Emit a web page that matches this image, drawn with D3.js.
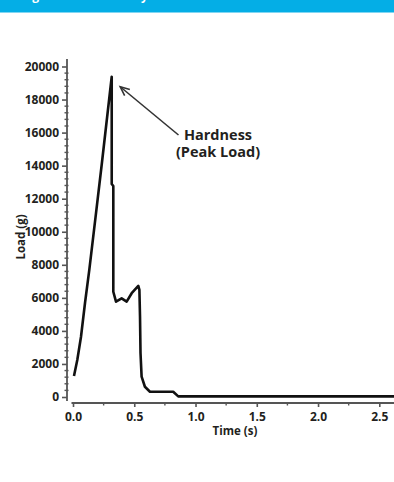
<!DOCTYPE html>
<html>
<head>
<meta charset="utf-8">
<script src="https://cdn.jsdelivr.net/npm/d3@7"></script>
<style>
  html, body { margin: 0; padding: 0; background: #ffffff; }
  svg { display: block; }
  text { font-family: "Open Sans", "Noto Sans", sans-serif; font-weight: 700; fill: #231f20; }
</style>
</head>
<body>
<svg id="chart" width="394" height="482"></svg>
<script>
// ---- data ----
const timeS = [0.008, 0.035, 0.065, 0.098, 0.133, 0.184, 0.234, 0.316, 0.316, 0.329, 0.329, 0.351, 0.397, 0.438, 0.479, 0.533, 0.542, 0.547, 0.551, 0.560, 0.587, 0.628, 0.818, 0.859, 2.62];
const loadG = [1270, 2240, 3630, 5690, 7690, 10890, 14040, 19380, 12890, 12770, 6370, 5770, 5970, 5770, 6280, 6720, 6480, 4860, 2660, 1230, 620, 320, 320, 40, 40];
const yTicks = [0, 2000, 4000, 6000, 8000, 10000, 12000, 14000, 16000, 18000, 20000];
const xTicks = [0.0, 0.5, 1.0, 1.5, 2.0, 2.5];
const annotation = ["Hardness", "(Peak Load)"];
const headerText = "Figure 1: Firmness by TPA";

const svg = d3.select("#chart");
const ink = "#231f20";

// header bar (title is cropped at the top edge, as in the reference)
svg.append("rect").attr("x", 0).attr("y", 0).attr("width", 394).attr("height", 12.5).attr("fill", "#04aee6");
svg.append("text").attr("x", 22).attr("y", 0).attr("font-size", 12).style("fill", "#ffffff").text(headerText);

const x = d3.scaleLinear().domain([0, 2.62]).range([73, 394]);
const y = d3.scaleLinear().domain([0, 20000]).range([397, 66.5]);

// y axis
const yAxisG = svg.append("g").attr("transform", "translate(67,0)");
yAxisG.append("line").attr("x1", 0).attr("x2", 0).attr("y1", 59).attr("y2", 401).attr("stroke", "#555").attr("stroke-width", 1.8);
const yMinor = d3.range(0, 20001, 400).filter(v => v % 2000 !== 0);
yAxisG.selectAll(".ymin").data(yMinor).enter().append("line")
  .attr("x1", -2.5).attr("x2", 1.5).attr("y1", d => y(d)).attr("y2", d => y(d))
  .attr("stroke", "#555").attr("stroke-width", 1.4);
const yAx = d3.axisLeft(y).tickValues(yTicks).tickSize(5).tickPadding(3).tickFormat(d3.format("d"));
const yg = svg.append("g").attr("transform", "translate(67,0)").call(yAx);
yg.select(".domain").remove();
yg.selectAll(".tick line").attr("stroke", "#555").attr("stroke-width", 1.6);
yg.selectAll(".tick text").attr("font-size", 12).attr("font-family", null).style("fill", ink);

// x axis
const xAxisG = svg.append("g").attr("transform", "translate(0,403)");
xAxisG.append("line").attr("x1", 71.5).attr("x2", 394).attr("y1", 0).attr("y2", 0).attr("stroke", "#555").attr("stroke-width", 1.8);
const xMinor = [0.25, 0.75, 1.25, 1.75, 2.25];
xAxisG.selectAll(".xmin").data(xMinor).enter().append("line")
  .attr("x1", d => x(d)).attr("x2", d => x(d)).attr("y1", 0).attr("y2", 2.5)
  .attr("stroke", "#555").attr("stroke-width", 1.4);
const xAx = d3.axisBottom(x).tickValues(xTicks).tickSize(4).tickPadding(5).tickFormat(d3.format(".1f"));
const xg = svg.append("g").attr("transform", "translate(0,403)").call(xAx);
xg.select(".domain").remove();
xg.selectAll(".tick line").attr("stroke", "#555").attr("stroke-width", 1.6);
xg.selectAll(".tick text").attr("font-size", 12).attr("font-family", null).style("fill", ink);

// axis titles
svg.append("text").attr("x", 235).attr("y", 435).attr("text-anchor", "middle").attr("font-size", 11.5).text("Time (s)");
svg.append("text").attr("transform", "translate(24.5,237) rotate(-90)").attr("text-anchor", "middle").attr("font-size", 11.5).text("Load (g)");

// curve
const pts = timeS.map((t, i) => [t, loadG[i]]);
const line = d3.line().x(d => x(d[0])).y(d => y(d[1]));
svg.append("path").datum(pts).attr("d", line).attr("fill", "none").attr("stroke", "#111").attr("stroke-width", 2.6).attr("stroke-linejoin", "round");

// annotation arrow
const peakIdx = loadG.indexOf(d3.max(loadG));
const tipX = x(timeS[peakIdx]) + 8.5, tipY = y(loadG[peakIdx]) + 10;
const endX = 178.5, endY = 135;
svg.append("line").attr("x1", tipX).attr("y1", tipY).attr("x2", endX).attr("y2", endY).attr("stroke", "#333").attr("stroke-width", 1.6);
const ang = Math.atan2(endY - tipY, endX - tipX);
const hl = 10, spread = 0.42;
const headPath = d3.path();
headPath.moveTo(tipX + hl * Math.cos(ang - spread), tipY + hl * Math.sin(ang - spread));
headPath.lineTo(tipX, tipY);
headPath.lineTo(tipX + hl * Math.cos(ang + spread), tipY + hl * Math.sin(ang + spread));
svg.append("path").attr("d", headPath.toString()).attr("fill", "none").attr("stroke", "#333").attr("stroke-width", 1.6);

svg.append("text").attr("x", 218).attr("y", 139.5).attr("text-anchor", "middle").attr("font-size", 14.5).text(annotation[0]);
svg.append("text").attr("x", 218).attr("y", 157).attr("text-anchor", "middle").attr("font-size", 14.5).text(annotation[1]);
</script>
</body>
</html>
